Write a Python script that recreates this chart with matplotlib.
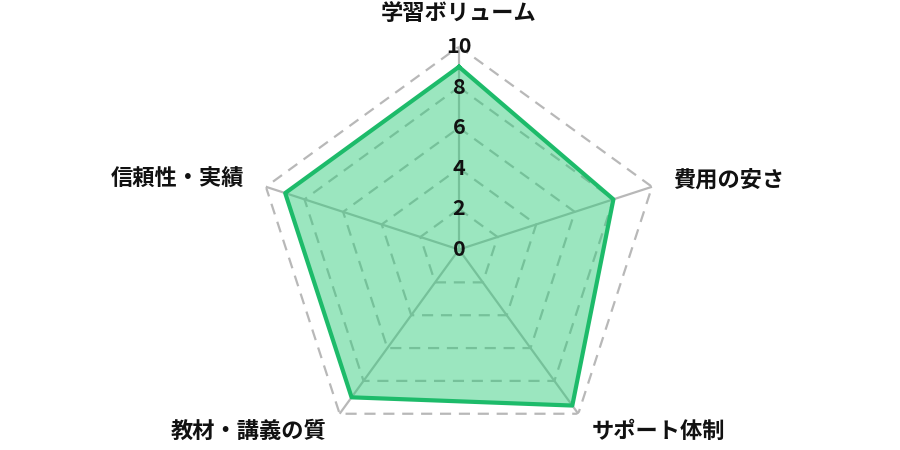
import numpy as np
import matplotlib
matplotlib.use("Agg")
import matplotlib.pyplot as plt

plt.rcParams['font.family'] = ['Noto Sans CJK JP', 'DejaVu Sans']

categories = ['学習ボリューム', '費用の安さ', 'サポート体制', '教材・講義の質', '信頼性・実績']
values = [9, 8, 9.5, 9, 9]
ticks = [0, 2, 4, 6, 8, 10]

n = len(categories)
angles = np.linspace(0, 2 * np.pi, n, endpoint=False)

fig = plt.figure(figsize=(9, 4.5), dpi=100)
ax = fig.add_axes([0.2844, -0.0056, 0.4511, 0.9022], projection='polar')
ax.set_theta_offset(np.pi / 2)
ax.set_theta_direction(-1)
ax.set_ylim(0, 10)
ax.axis('off')

grid_col = '#b8b8b8'
closed = np.append(angles, angles[0])

# pentagon grid
for t in ticks[1:]:
    ax.plot(closed, [t] * (n + 1), color=grid_col, lw=1.6, ls=(0, (5, 3.5)), zorder=1)
# spokes
for a in angles:
    ax.plot([a, a], [0, 10], color=grid_col, lw=1.6, zorder=1)

vals = values + values[:1]
ax.fill(closed, vals, color='#2ecc7a', alpha=0.48, zorder=2, lw=0)
ax.plot(closed, vals, color='#1dbb6a', lw=3, zorder=3)

# tick labels along the top spoke
for t in ticks:
    ax.text(0, t, str(t), ha='center', va='center', fontsize=15.5,
            fontweight='bold', color='#111111', zorder=4)

# category labels
for a, lab in zip(angles, categories):
    deg = np.degrees(a) % 360
    if deg < 1:
        ha, va, r = 'center', 'bottom', 11.05
    elif deg < 180:
        ha, va, r = 'left', 'center', 11.1
    else:
        ha, va, r = 'right', 'center', 11.1
    ax.text(a, r, lab, ha=ha, va=va, fontsize=16, fontweight='bold',
            color='#111111', clip_on=False)

fig.savefig('out.png', dpi=100)
